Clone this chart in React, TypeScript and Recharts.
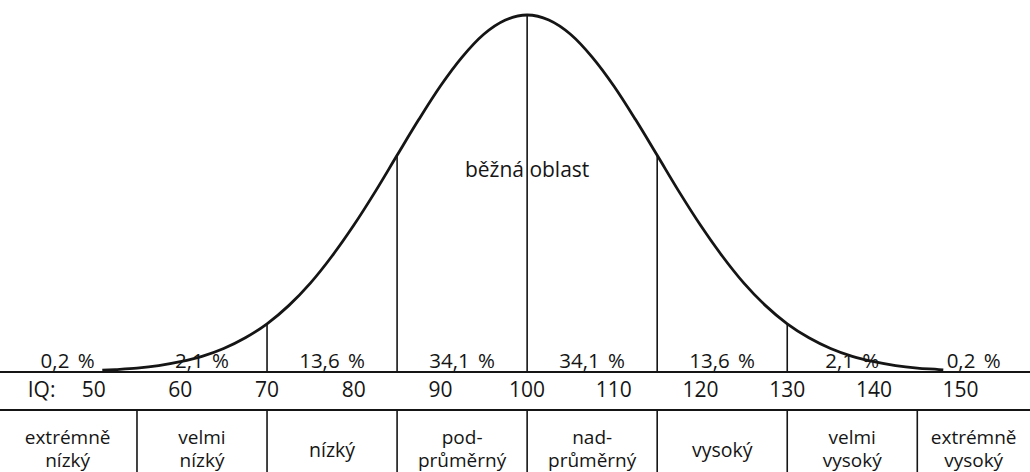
import React from 'react';
import {
  ComposedChart,
  Line,
  Scatter,
  XAxis,
  YAxis,
  ReferenceLine,
} from 'recharts';

// IQ curve (height relative to the peak = 100)
const CURVE_IQ = [
  51, 52.5, 55, 57.5, 60, 62.5, 65, 67.5, 70, 72.5, 75, 77.5, 80, 82.5, 85, 87.5, 90, 92.5, 95, 97.5,
  100, 102.5, 105, 107.5, 110, 112.5, 115, 117.5, 120, 122.5, 125, 127.5, 130, 132.5, 135, 137.5,
  140, 142.5, 145, 147.5, 148,
];
const CURVE_H = [
  0.5, 0.7, 1.1, 1.8, 2.9, 4.4, 6.6, 9.6, 13.5, 18.6, 24.9, 32.5, 41.1, 50.6, 60.7, 70.7, 80.1, 88.2, 94.6, 98.6,
  100, 98.6, 94.6, 88.2, 80.1, 70.7, 60.7, 50.6, 41.1, 32.5, 24.9, 18.6, 13.5, 9.6, 6.6, 4.4,
  2.9, 1.8, 1.1, 0.7, 0.6,
];

const IQ_TICKS = [50, 60, 70, 80, 90, 100, 110, 120, 130, 140, 150];
const CURVE_DIVIDERS = [70, 85, 100, 115, 130];
const BAND_EDGES = [39, 55, 70, 85, 100, 115, 130, 145, 158];
const PERCENTS = ['0,2 %', '2,1 %', '13,6 %', '34,1 %', '34,1 %', '13,6 %', '2,1 %', '0,2 %'];
const CATEGORIES = [
  ['extrémně', 'nízký'],
  ['velmi', 'nízký'],
  ['nízký'],
  ['pod-', 'průměrný'],
  ['nad-', 'průměrný'],
  ['vysoký'],
  ['velmi', 'vysoký'],
  ['extrémně', 'vysoký'],
];
const CENTER_LABEL = 'běžná oblast';
const AXIS_NAME = 'IQ:';

// layout
const X_DOMAIN = [39.2, 158];
const Y_DOMAIN = [-28, 104.2];
const TABLE_TOP = -10.65;
const CENTER_LABEL_Y = 54.6;
const INK = '#151515';
const FONT = "'Open Sans', 'Noto Sans', sans-serif";

const curveData = CURVE_IQ.map((iq, i) => ({ iq, h: CURVE_H[i] }));
const heightAt = (iq: number) => curveData.find((d) => d.iq === iq)?.h ?? 0;
const bands = PERCENTS.map((pct, i) => ({
  iq: (BAND_EDGES[i] + BAND_EDGES[i + 1]) / 2,
  y: 0,
  pct,
  lines: CATEGORIES[i],
}));
const tickData = IQ_TICKS.map((iq) => ({ iq, y: 0, text: String(iq) }));

const textStyle = { fontFamily: FONT, fill: INK };

const PercentLabel = (p: any) => (
  <text x={p.cx} y={p.cy} dy={-4} textAnchor="middle" fontSize={20.5} wordSpacing={3} style={textStyle}>
    {p.payload.pct}
  </text>
);

const TickLabel = (p: any) => (
  <text x={p.cx} y={p.cy} dy={25} textAnchor="middle" fontSize={21} style={textStyle}>
    {p.payload.text}
  </text>
);

const CategoryLabel = (p: any) => {
  const lines: string[] = p.payload.lines;
  if (lines.length === 1) {
    return (
      <text x={p.cx} y={p.cy} dy={85} textAnchor="middle" fontSize={19.5} style={textStyle}>
        {lines[0]}
      </text>
    );
  }
  return (
    <text x={p.cx} y={p.cy} textAnchor="middle" fontSize={19} style={textStyle}>
      <tspan x={p.cx} dy={72}>{lines[0]}</tspan>
      <tspan x={p.cx} dy={22.5}>{lines[1]}</tspan>
    </text>
  );
};

const PlainLabel = (p: any) => (
  <text x={p.cx} y={p.cy} textAnchor="middle" fontSize={p.payload.size} dy={p.payload.dy} style={textStyle}>
    {p.payload.text}
  </text>
);

export default function App() {
  const extraLabels = [
    { iq: 100, y: CENTER_LABEL_Y, text: CENTER_LABEL, size: 21, dy: 0 },
    { iq: 44, y: 0, text: AXIS_NAME, size: 21, dy: 25 },
  ];

  return (
    <div style={{ position: 'absolute', left: 0, top: 0, background: '#fff' }}>
      <ComposedChart width={1030} height={472} margin={{ top: 0, right: 0, bottom: 0, left: 0 }}>
        <XAxis dataKey="iq" type="number" domain={X_DOMAIN} allowDataOverflow hide />
        <YAxis type="number" domain={Y_DOMAIN} allowDataOverflow hide />

        <ReferenceLine y={0} stroke={INK} strokeWidth={2} />
        <ReferenceLine y={TABLE_TOP} stroke={INK} strokeWidth={2} />
        {CURVE_DIVIDERS.map((iq) => (
          <ReferenceLine
            key={`d-${iq}`}
            segment={[{ x: iq, y: 0 }, { x: iq, y: heightAt(iq) }]}
            stroke={INK}
            strokeWidth={1.6}
          />
        ))}
        {BAND_EDGES.slice(1, -1).map((iq) => (
          <ReferenceLine
            key={`t-${iq}`}
            segment={[{ x: iq, y: TABLE_TOP }, { x: iq, y: Y_DOMAIN[0] }]}
            stroke={INK}
            strokeWidth={1.6}
          />
        ))}

        <Line
          data={curveData}
          dataKey="h"
          type="monotone"
          stroke={INK}
          strokeWidth={2.8}
          dot={false}
          activeDot={false}
          isAnimationActive={false}
        />

        <Scatter data={bands} dataKey="y" shape={PercentLabel} isAnimationActive={false} />
        <Scatter data={bands} dataKey="y" shape={CategoryLabel} isAnimationActive={false} />
        <Scatter data={tickData} dataKey="y" shape={TickLabel} isAnimationActive={false} />
        <Scatter data={extraLabels} dataKey="y" shape={PlainLabel} isAnimationActive={false} />
      </ComposedChart>
    </div>
  );
}
